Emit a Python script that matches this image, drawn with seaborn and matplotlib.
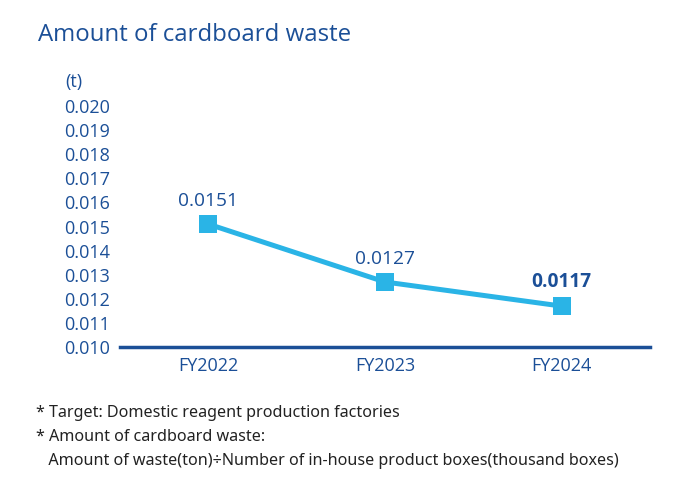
import numpy as np
import pandas as pd
import matplotlib
matplotlib.use("Agg")
import matplotlib.pyplot as plt
import seaborn as sns

years = ["FY2022", "FY2023", "FY2024"]
waste = [0.0151, 0.0127, 0.0117]
value_labels = ["0.0151", "0.0127", "0.0117"]
yticks = [0.010, 0.011, 0.012, 0.013, 0.014, 0.015, 0.016, 0.017, 0.018, 0.019, 0.020]

sns.set_style("white")
plt.rcParams['font.family'] = ['Open Sans', 'DejaVu Sans']

dark_blue = "#1b4f97"
line_blue = "#2ab4e6"

df = pd.DataFrame({"year": years, "waste": waste})
df["pos"] = np.arange(len(years))

fig = plt.figure(figsize=(6.9, 4.93), dpi=100)
ax = fig.add_axes([0.174, 0.296, 0.768, 0.489])

sns.lineplot(data=df, x="pos", y="waste", ax=ax, color=line_blue, linewidth=3.6,
             marker="s", markersize=12.5, markeredgewidth=0, markerfacecolor=line_blue)

for i, (v, lab) in enumerate(zip(waste, value_labels)):
    ax.text(i, v + 0.0006, lab, ha="center", va="bottom", fontsize=13.8,
            color=dark_blue, fontweight="bold" if i == 2 else "normal")

ax.set_xlim(-0.5, 2.5)
ax.set_ylim(0.010, 0.020)
ax.set_xticks(df["pos"])
ax.set_xticklabels(years)
ax.set_yticks(yticks)
ax.set_yticklabels([f"{t:.3f}" for t in yticks])
ax.tick_params(axis="both", length=0, labelsize=13, colors=dark_blue)
ax.tick_params(axis="y", pad=7)
ax.tick_params(axis="x", pad=7)
ax.set_xlabel("")
ax.set_ylabel("")
for s in ["top", "right", "left"]:
    ax.spines[s].set_visible(False)
ax.spines["bottom"].set_color(dark_blue)
ax.spines["bottom"].set_linewidth(2.5)

fig.text(0.094, 0.833, "(t)", fontsize=13, color=dark_blue, ha="left", va="center")
fig.text(0.055, 0.928, "Amount of cardboard waste", fontsize=17.3, color=dark_blue,
         ha="left", va="center")

notes = ["* Target: Domestic reagent production factories",
         "* Amount of cardboard waste:",
         "   Amount of waste(ton)\u00f7Number of in-house product boxes(thousand boxes)"]
for k, n in enumerate(notes):
    fig.text(0.052, 0.163 - k * 0.049, n, fontsize=11.6, color="#222222",
             ha="left", va="center", family=["Noto Sans", "DejaVu Sans"])

fig.savefig("out.png", dpi=100, facecolor="white")
